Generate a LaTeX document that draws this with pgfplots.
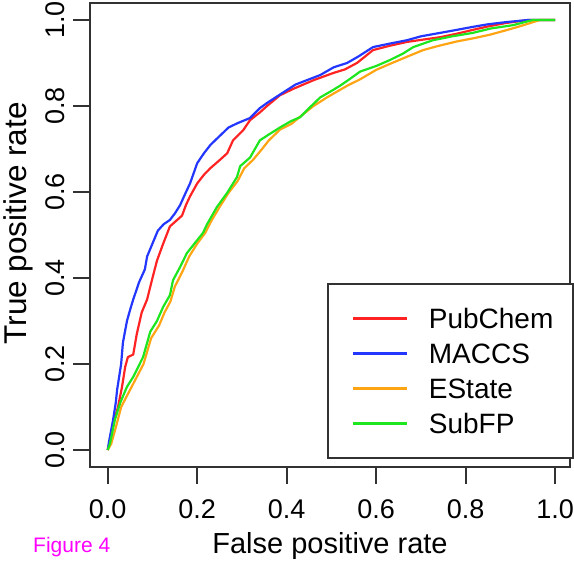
\documentclass[border=0pt]{standalone}
\usepackage{pgfplots}
\pgfplotsset{compat=1.18}
\usepackage{fontspec}
\setmainfont{Liberation Sans}
\definecolor{rred}{RGB}{255,35,35}
\definecolor{rblue}{RGB}{35,55,255}
\definecolor{rorange}{RGB}{255,165,20}
\definecolor{rgreen}{RGB}{30,230,30}
\definecolor{frame}{RGB}{50,50,50}
\definecolor{figmag}{RGB}{255,0,255}
\begin{document}
\begin{tikzpicture}
\begin{axis}[
  scale only axis, width=480pt, height=464pt,
  at={(0pt,0pt)}, anchor=south west,
  xmin=-0.0396, xmax=1.0331, ymin=-0.0395, ymax=1.0395,
  xtick={0,0.2,0.4,0.6,0.8,1}, xticklabels={0.0,0.2,0.4,0.6,0.8,1.0},
  ytick={0,0.2,0.4,0.6,0.8,1}, yticklabels={0.0,0.2,0.4,0.6,0.8,1.0},
  tick align=outside, major tick length=17pt,
  xtick pos=bottom, ytick pos=left,
  tick style={line width=1.8pt, color=frame},
  axis line style={line width=1.8pt, color=frame},
  /pgf/number format/assume math mode=true,
  ticklabel style={font=\fontsize{27}{32}\selectfont, inner sep=0pt},
  xticklabel style={anchor=north},
  xticklabel shift=15pt,
  yticklabel style={rotate=90, anchor=south},
  yticklabel shift=8pt,
  xlabel={False positive rate},
  ylabel={True positive rate},
  xlabel style={at={(axis description cs:0.5,0)}, anchor=base, yshift=-87pt, font=\fontsize{29}{34}\selectfont, inner sep=0pt},
  ylabel style={at={(axis description cs:-0.13125,0.525)}, anchor=base, font=\fontsize{31.5}{36}\selectfont, inner sep=0pt},
  legend cell align=left,
  legend image code/.code={\path[draw=none] (0pt,0pt) rectangle (101pt,0pt); \draw[#1] (25pt,0pt) -- (79pt,0pt);},
  legend style={at={(axis cs:0.490,0.388)}, anchor=north west, draw=frame, line width=1.8pt, fill=white,
    inner xsep=0pt, inner ysep=18.5pt, row sep=3pt, column sep=0pt,
    font=\fontsize{28}{34}\selectfont,
    nodes={inner sep=0pt, text width=144pt, text height=26pt, text depth=6pt, align=left}},
  every axis plot/.append style={line width=2.2pt, line join=round},
]
% PubChem
\addplot[rred] coordinates {
(0,0) (0.005,0.023) (0.012,0.06) (0.023,0.10) (0.032,0.147) (0.039,0.193) (0.045,0.216)
(0.057,0.222) (0.065,0.27) (0.076,0.32) (0.088,0.35) (0.100,0.40) (0.110,0.44) (0.124,0.48)
(0.139,0.52) (0.152,0.532) (0.166,0.545) (0.175,0.57) (0.184,0.59) (0.200,0.62) (0.215,0.64)
(0.229,0.655) (0.250,0.674) (0.267,0.69) (0.280,0.72) (0.303,0.744) (0.318,0.767) (0.340,0.785)
(0.356,0.80) (0.385,0.825) (0.415,0.84) (0.460,0.86) (0.505,0.877) (0.530,0.885) (0.557,0.90)
(0.593,0.93) (0.630,0.94) (0.669,0.949) (0.743,0.96) (0.780,0.968) (0.816,0.977) (0.850,0.985)
(0.890,0.993) (0.940,1.0) (1.0,1.0)
};
\addlegendentry{PubChem}
% MACCS
\addplot[rblue] coordinates {
(0,0) (0.003,0.02) (0.012,0.07) (0.018,0.11) (0.021,0.14) (0.027,0.18) (0.030,0.20)
(0.034,0.25) (0.043,0.30) (0.050,0.326) (0.057,0.35) (0.070,0.39) (0.083,0.42) (0.088,0.45)
(0.100,0.48) (0.112,0.51) (0.125,0.525) (0.139,0.535) (0.150,0.55) (0.162,0.57) (0.175,0.60)
(0.184,0.62) (0.200,0.667) (0.215,0.69) (0.230,0.71) (0.250,0.73) (0.270,0.75) (0.290,0.76)
(0.318,0.772) (0.340,0.795) (0.356,0.807) (0.390,0.83) (0.420,0.85) (0.450,0.862) (0.475,0.872)
(0.505,0.89) (0.535,0.90) (0.560,0.915) (0.593,0.937) (0.630,0.945) (0.669,0.953) (0.700,0.962)
(0.743,0.97) (0.780,0.977) (0.816,0.984) (0.850,0.99) (0.890,0.995) (0.940,1.0) (1.0,1.0)
};
\addlegendentry{MACCS}
% EState
\addplot[rorange] coordinates {
(0,0) (0.008,0.015) (0.020,0.06) (0.030,0.10) (0.045,0.13) (0.060,0.16) (0.080,0.20)
(0.097,0.26) (0.115,0.29) (0.127,0.32) (0.140,0.345) (0.150,0.38) (0.167,0.415) (0.182,0.45)
(0.200,0.48) (0.218,0.505) (0.230,0.53) (0.250,0.565) (0.270,0.598) (0.290,0.625) (0.305,0.655)
(0.325,0.675) (0.345,0.70) (0.360,0.72) (0.385,0.745) (0.410,0.758) (0.430,0.775) (0.460,0.80)
(0.490,0.82) (0.535,0.847) (0.564,0.862) (0.600,0.884) (0.631,0.898) (0.670,0.915) (0.705,0.93)
(0.740,0.94) (0.780,0.95) (0.820,0.958) (0.855,0.966) (0.890,0.976) (0.920,0.985) (0.966,1.0) (1.0,1.0)
};
\addlegendentry{EState}
% SubFP
\addplot[rgreen] coordinates {
(0,0) (0.005,0.015) (0.016,0.07) (0.028,0.11) (0.043,0.147) (0.057,0.17) (0.079,0.216)
(0.095,0.275) (0.110,0.30) (0.124,0.333) (0.139,0.36) (0.146,0.395) (0.162,0.426) (0.177,0.458)
(0.200,0.488) (0.213,0.505) (0.222,0.525) (0.244,0.565) (0.267,0.598) (0.289,0.635) (0.296,0.66)
(0.318,0.68) (0.340,0.72) (0.362,0.735) (0.385,0.75) (0.410,0.765) (0.430,0.774) (0.455,0.80)
(0.475,0.82) (0.500,0.835) (0.519,0.847) (0.540,0.862) (0.564,0.88) (0.600,0.893) (0.631,0.907)
(0.660,0.922) (0.683,0.937) (0.727,0.953) (0.770,0.962) (0.816,0.97) (0.855,0.98) (0.906,0.988)
(0.950,1.0) (1.0,1.0)
};
\addlegendentry{SubFP}
\end{axis}
\node[anchor=base west, inner sep=0pt, text=figmag, font=\fontsize{21}{25}\selectfont] at (-57pt,-86pt) {Figure 4};
\pgfresetboundingbox
\path (-90pt,-97pt) rectangle (484pt,467pt);
\end{tikzpicture}
\end{document}
